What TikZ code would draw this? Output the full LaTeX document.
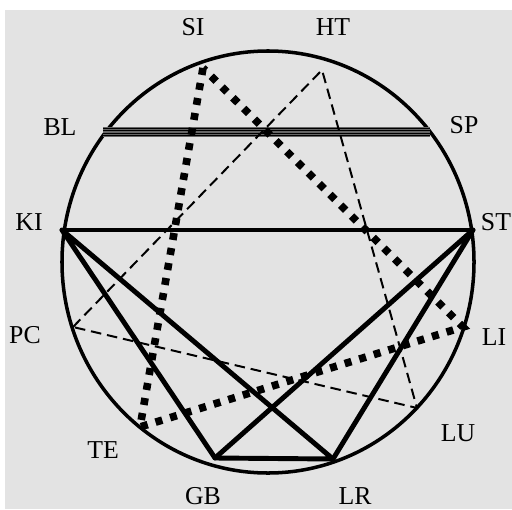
\documentclass[tikz,border=0pt]{standalone}
\usepackage{fontspec}
\setmainfont{Liberation Serif}
\definecolor{bggray}{HTML}{E3E3E3}
\tikzset{
  solidline/.style={line width=4.2pt,line cap=round,line join=round},
  dotline/.style={line width=6.5pt,dash pattern=on 6pt off 7pt},
  dashline/.style={line width=1.7pt,dash pattern=on 9pt off 5pt},
  lbl/.style={font=\fontsize{22}{22}\selectfont,inner sep=0pt}
}
\begin{document}
\begin{tikzpicture}[x=0.03cm,y=-0.03cm]
\useasboundingbox (0,0) rectangle (512,509);
\fill[bggray] (5,10) rectangle (512,509);
\draw[line width=3pt] (268,262) ellipse [x radius=6.18cm,y radius=6.33cm];

\coordinate (si) at (203,68);
\coordinate (ht) at (322,70);
\coordinate (bl) at (103,132);
\coordinate (sp) at (430,132);
\coordinate (ki) at (62,230);
\coordinate (st) at (473,230);
\coordinate (pc) at (73,327);
\coordinate (li) at (463,327);
\coordinate (te) at (140,427);
\coordinate (lu) at (417,408);
\coordinate (gb) at (215,458);
\coordinate (lr) at (333,459);

\node[lbl] (SI) at (193,27) {SI};
\node[lbl] (HT) at (333,27) {HT};
\node[lbl] (BL) at (60,127) {BL};
\node[lbl] (SP) at (464,125) {SP};
\node[lbl] (KI) at (29,222) {KI};
\node[lbl] (ST) at (496,222) {ST};
\node[lbl] (PC) at (25,335) {PC};
\node[lbl] (LI) at (494,337) {LI};
\node[lbl] (TE) at (103,450) {TE};
\node[lbl] (LU) at (458,433) {LU};
\node[lbl] (GB) at (203,496) {GB};
\node[lbl] (LR) at (355,496) {LR};

% bladder - spleen
\draw[line width=9pt,black!60] (bl) -- (sp);
\foreach \dy in {-3.3,-1.1,1.1,3.3}
  \draw[line width=0.9pt] ([yshift=\dy pt]bl) -- ([yshift=\dy pt]sp);

\draw[solidline] (ki) -- (st);
\draw[solidline] (ki) -- (gb) -- (lr) -- (ki);
\draw[solidline] (gb) -- (st) -- (lr);

\draw[dotline] (si) -- (te) -- (li) -- (si);

\draw[dashline] (pc) -- (ht) -- (lu) -- (pc);
\end{tikzpicture}
\end{document}
